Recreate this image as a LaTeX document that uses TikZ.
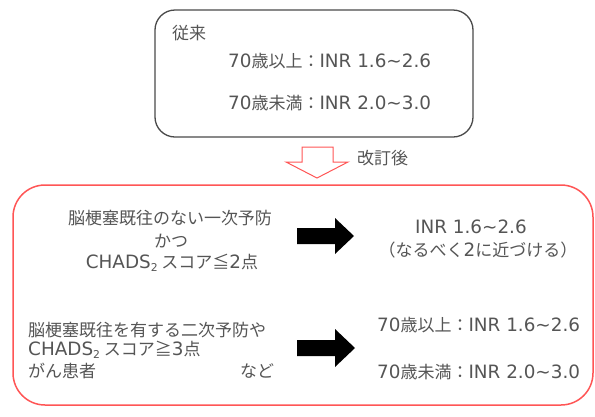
\documentclass[tikz,border=0pt]{standalone}
\usepackage{fontspec}
\setmainfont{Noto Sans CJK JP}
\newfontfamily\latfont{DejaVu Sans}[Scale=1.08]
\usetikzlibrary{calc}
\definecolor{txt}{HTML}{555555}
\definecolor{redline}{HTML}{FF5555}
\definecolor{boxline}{HTML}{4A4A4A}
\newcommand{\en}[1]{{\latfont #1}}
\newcommand{\sbtwo}{\raisebox{-0.35ex}{\latfont\fontsize{10}{12}\selectfont 2}}
\newcommand{\tl}{\textasciitilde}
\tikzset{
  lbl/.style={font=\fontsize{17}{20}\selectfont, text=txt, inner sep=0pt},
  oldbox/.style={draw=boxline, line width=1.3pt, rounded corners=20pt},
  newbox/.style={draw=redline, line width=1.5pt, rounded corners=32pt},
  blockarrow/.style={fill=black},
  hollowarrow/.style={draw=redline, line width=1pt, fill=white, line join=miter}
}
\begin{document}
\begin{tikzpicture}[x=1pt,y=-1pt]
\useasboundingbox (0,0) rectangle (595,416);
\fill[white] (0,0) rectangle (595,416);
% top box
\draw[oldbox] (155,10) rectangle (473,137);
\node[lbl, anchor=west] (conv) at (172,33) {従来};
\node[lbl, anchor=west] (old1) at (228,61) {\en{70}歳以上：\en{INR 1.6\tl 2.6}};
\node[lbl, anchor=west] (old2) at (228,103) {\en{70}歳未満：\en{INR 2.0\tl 3.0}};
% hollow down arrow
\draw[hollowarrow] (302,147) -- (333,147) -- (333,162) -- (348,162) -- (317,178) -- (286,162) -- (302,162) -- cycle;
\node[lbl, anchor=west] (rev) at (357,158) {改訂後};
% red box
\draw[newbox] (13,185) rectangle (593,405);
% row 1
\node[lbl] (c1a) at (170,218) {脳梗塞既往のない一次予防};
\node[lbl] (c1b) at (171,241) {かつ};
\node[lbl] (c1c) at (172,263) {\en{CHADS}\sbtwo{} スコア≦\en{2}点};
\fill[blockarrow] (297,228) -- (335,228) -- (335,218) -- (354,236) -- (335,254) -- (335,244) -- (297,244) -- cycle;
\node[lbl] (r1a) at (471,227) {\en{INR 1.6\tl 2.6}};
\node[lbl] (r1b) at (478,250) {（なるべく\en{2}に近づける）};
% row 2
\node[lbl, anchor=west] (c2a) at (28,330) {脳梗塞既往を有する二次予防や};
\node[lbl, anchor=west] (c2b) at (28,350) {\en{CHADS}\sbtwo{} スコア≧\en{3}点};
\node[lbl, anchor=west] (c2c) at (28,371) {がん患者};
\node[lbl, anchor=west] (c2d) at (240,371) {など};
\fill[blockarrow] (297,340) -- (335,340) -- (335,329) -- (355,348) -- (335,367) -- (335,356) -- (297,356) -- cycle;
\node[lbl, anchor=west] (r2a) at (377,325) {\en{70}歳以上：\en{INR 1.6\tl 2.6}};
\node[lbl, anchor=west] (r2b) at (377,372) {\en{70}歳未満：\en{INR 2.0\tl 3.0}};
\end{tikzpicture}
\end{document}
